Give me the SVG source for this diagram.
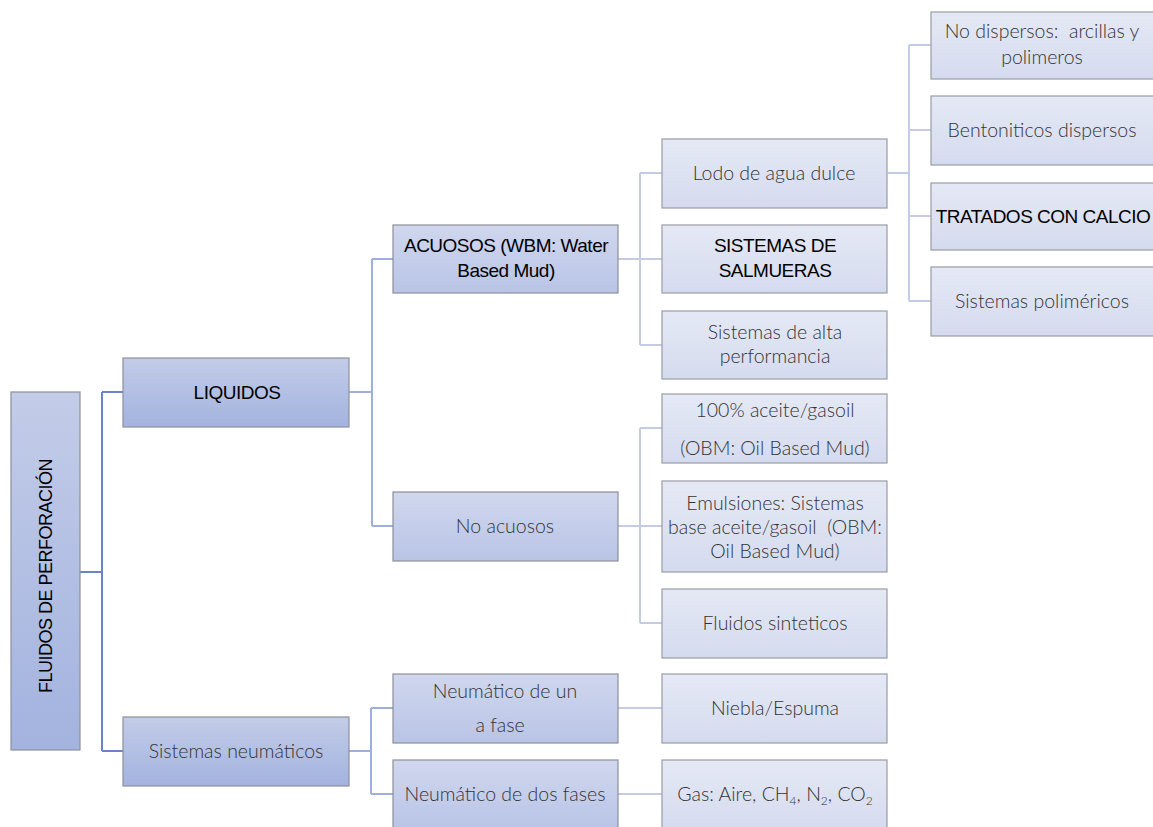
<svg xmlns="http://www.w3.org/2000/svg" width="1153" height="827" viewBox="0 0 1153 827">
<defs>
<linearGradient id="g1" x1="0" y1="0" x2="0" y2="1"><stop offset="0" stop-color="#c3cce8"/><stop offset="1" stop-color="#a3b3df"/></linearGradient>
<linearGradient id="g2" x1="0" y1="0" x2="0" y2="1"><stop offset="0" stop-color="#d0d7ee"/><stop offset="1" stop-color="#b9c4e6"/></linearGradient>
<linearGradient id="g3" x1="0" y1="0" x2="0" y2="1"><stop offset="0" stop-color="#e5e9f5"/><stop offset="1" stop-color="#d5dbef"/></linearGradient>
<style>
.b1{fill:url(#g1);stroke:#8d8f98;stroke-width:1.2}
.b2{fill:url(#g2);stroke:#8d8f98;stroke-width:1.2}
.b3{fill:url(#g3);stroke:#9a9ca4;stroke-width:1.2}
.c1{fill:none;stroke:#6c84c6;stroke-width:2}
.c2{fill:none;stroke:#9eafdc;stroke-width:2}
.c3{fill:none;stroke:#c3cbe7;stroke-width:2}
.tb{font-family:"Liberation Sans",Arial,sans-serif;font-size:19px;fill:#000;letter-spacing:-0.5px;text-anchor:middle}
.tg{font-family:Lato,"Open Sans",sans-serif;font-weight:300;font-size:19.5px;fill:#333;text-anchor:middle}
</style>
</defs>
<g id="connectors">
<path class="c1" d="M80 572 H102 M102 392 V751 M102 392 H123 M102 751 H123"/>
<path class="c2" d="M349 392 H372 M372 259 V526 M372 259 H393 M372 526 H393"/>
<path class="c2" d="M349 751 H371 M371 708 V794 M371 708 H393 M371 794 H393"/>
<path class="c3" d="M618 259 H640 M640 173 V345 M640 173 H662 M640 259 H662 M640 345 H662"/>
<path class="c3" d="M618 526 H640 M640 428 V623 M640 428 H662 M640 526 H662 M640 623 H662"/>
<path class="c3" d="M618 708 H662 M618 794 H662"/>
<path class="c3" d="M888 173 H909 M909 45 V301 M909 45 H931 M909 130 H931 M909 216 H931 M909 301 H931"/>
</g>
<g id="root"><rect class="b1" x="11" y="392" width="69" height="358"/><text class="tb" transform="translate(52 576) rotate(-90)" style="font-size:18px">FLUIDOS DE PERFORACIÓN</text></g>
<g id="liquidos"><rect class="b1" x="123" y="358" width="226" height="69"/><text class="tb" x="237" y="399">LIQUIDOS</text></g>
<g id="neumaticos"><rect class="b1" x="123" y="717" width="226" height="69"/><text class="tg" x="236" y="758">Sistemas neumáticos</text></g>
<g id="acuosos"><rect class="b2" x="393" y="225" width="225" height="68"/><text class="tb" x="506" y="252">ACUOSOS (WBM: Water</text><text class="tb" x="506" y="277">Based Mud)</text></g>
<g id="noacuosos"><rect class="b2" x="393" y="492" width="225" height="69"/><text class="tg" x="505" y="533">No acuosos</text></g>
<g id="neum1"><rect class="b2" x="393" y="674" width="225" height="69"/><text class="tg" x="505" y="698">Neumático de un</text><text class="tg" x="500" y="732">a fase</text></g>
<g id="neum2"><rect class="b2" x="393" y="760" width="225" height="70"/><text class="tg" x="505" y="801">Neumático de dos fases</text></g>
<g id="lodo"><rect class="b3" x="662" y="139" width="225" height="69"/><text class="tg" x="774" y="180">Lodo de agua dulce</text></g>
<g id="salmueras"><rect class="b3" x="662" y="225" width="225" height="68"/><text class="tb" x="775" y="252">SISTEMAS DE</text><text class="tb" x="775" y="277">SALMUERAS</text></g>
<g id="alta"><rect class="b3" x="662" y="311" width="225" height="68"/><text class="tg" x="775" y="339">Sistemas de alta</text><text class="tg" x="775" y="363">performancia</text></g>
<g id="aceite"><rect class="b3" x="662" y="394" width="225" height="69"/><text class="tg" x="775" y="417">100% aceite/gasoil</text><text class="tg" x="775" y="455">(OBM: Oil Based Mud)</text></g>
<g id="emulsiones"><rect class="b3" x="662" y="481" width="225" height="91"/><text class="tg" x="775" y="510">Emulsiones: Sistemas</text><text class="tg" x="775" y="534" xml:space="preserve">base aceite/gasoil  (OBM:</text><text class="tg" x="775" y="558">Oil Based Mud)</text></g>
<g id="sinteticos"><rect class="b3" x="662" y="589" width="225" height="69"/><text class="tg" x="775" y="630">Fluidos sinteticos</text></g>
<g id="niebla"><rect class="b3" x="662" y="674" width="225" height="69"/><text class="tg" x="775" y="715">Niebla/Espuma</text></g>
<g id="gas"><rect class="b3" x="662" y="760" width="225" height="70"/><text class="tg" x="775" y="801">Gas: Aire, CH<tspan dy="4" font-size="12">4</tspan><tspan dy="-4">, N</tspan><tspan dy="4" font-size="12">2</tspan><tspan dy="-4">, CO</tspan><tspan dy="4" font-size="12">2</tspan></text></g>
<g id="nodispersos"><rect class="b3" x="931" y="12" width="224" height="67"/><text class="tg" x="1042" y="38" xml:space="preserve">No dispersos:  arcillas y</text><text class="tg" x="1042" y="64">polimeros</text></g>
<g id="bentoniticos"><rect class="b3" x="931" y="96" width="224" height="69"/><text class="tg" x="1042" y="137">Bentoniticos dispersos</text></g>
<g id="calcio"><rect class="b3" x="931" y="183" width="224" height="67"/><text class="tb" x="1043" y="223">TRATADOS CON CALCIO</text></g>
<g id="polimericos"><rect class="b3" x="931" y="267" width="224" height="69"/><text class="tg" x="1042" y="308">Sistemas poliméricos</text></g>
</svg>
